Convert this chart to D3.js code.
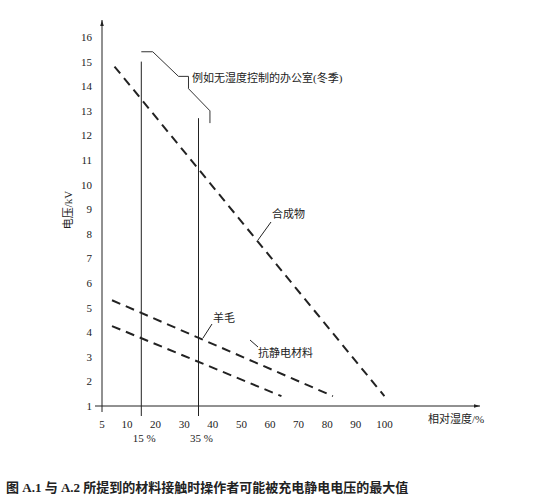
<!DOCTYPE html>
<html><head><meta charset="utf-8">
<script src="https://cdn.jsdelivr.net/npm/d3@7"></script>
<style>body{margin:0;background:#fff}text{font-family:"Liberation Serif","Noto Sans CJK SC",serif;fill:#222}</style>
</head><body><svg id="c" width="554" height="504"></svg>
<script>
const xTicks=[5,10,20,30,40,50,60,70,80,90,100];
const yTicks=d3.range(1,17);
const synthetic=[[7.5,14.8],[100,1.4]];
const wool=[[7,5.3],[82,1.4]];
const antistatic=[[7,4.25],[64,1.4]];
const office=[[15,15.4],[19,15.4],[28,14.4],[31.5,14.4],[31.5,13.9],[39,13.0],[39,12.5]];
const markers=[[15,15],[35,12.7]];
const svg=d3.select("#c");
const x=d3.scaleLinear().domain(xTicks).range(xTicks.map((d,i)=>i===0?102:127+(i-1)*28.6));
const y=d3.scaleLinear().domain([1,16]).range([406,37]);
svg.append("defs").append("marker").attr("id","ar").attr("viewBox","0 0 10 10").attr("refX",10).attr("refY",5)
 .attr("markerWidth",8).attr("markerHeight",6).attr("orient","auto").append("path").attr("d","M0,2L10,5L0,8Z").attr("fill","#222");
svg.append("line").attr("x1",95).attr("x2",480).attr("y1",y(1)).attr("y2",y(1)).attr("stroke","#222").attr("marker-end","url(#ar)");
svg.append("line").attr("x1",x(5)).attr("x2",x(5)).attr("y1",412).attr("y2",20).attr("stroke","#222").attr("marker-end","url(#ar)");
svg.selectAll(".yt").data(yTicks).join("text").attr("x",92).attr("y",d=>y(d)+4).attr("text-anchor","end").attr("font-size",11).text(d=>d);
svg.selectAll(".xt").data(xTicks).join("text").attr("x",d=>x(d)).attr("y",428).attr("text-anchor","middle").attr("font-size",11).text(d=>d);
markers.forEach(([h,v])=>{
 svg.append("line").attr("x1",x(h)).attr("x2",x(h)).attr("y1",416).attr("y2",y(v)).attr("stroke","#222");
 svg.append("text").attr("x",x(h)+3).attr("y",442).attr("text-anchor","middle").attr("font-size",11).text(h+" %");
});
const line=d3.line().x(d=>x(d[0])).y(d=>y(d[1]));
[synthetic,wool,antistatic].forEach(s=>svg.append("path").attr("d",line(s)).attr("fill","none").attr("stroke","#222").attr("stroke-width",2).attr("stroke-dasharray","9,6"));
svg.append("path").attr("d",line(office)).attr("fill","none").attr("stroke","#333").attr("stroke-width",1);
const lab=(t,tx,ty,lx1,ly1,lx2,ly2)=>{svg.append("text").attr("x",tx).attr("y",ty).attr("font-size",11).text(t);
 if(lx1!=null)svg.append("line").attr("x1",lx1).attr("y1",ly1).attr("x2",lx2).attr("y2",ly2).attr("stroke","#222");};
lab("例如无湿度控制的办公室(冬季)",192,82);
lab("合成物",272,218,258,240,271,222);
lab("羊毛",213,322,203,338,212,324);
lab("抗静电材料",258,357,250,340,258,347);
lab("相对湿度/%",428,423);
svg.append("text").attr("transform","translate(72,210) rotate(-90)").attr("text-anchor","middle").attr("font-size",11).text("电压/kV");
svg.append("text").attr("x",6).attr("y",492).attr("font-size",13).attr("font-weight","bold").text("图 A.1  与 A.2 所提到的材料接触时操作者可能被充电静电电压的最大值");
</script></body></html>
